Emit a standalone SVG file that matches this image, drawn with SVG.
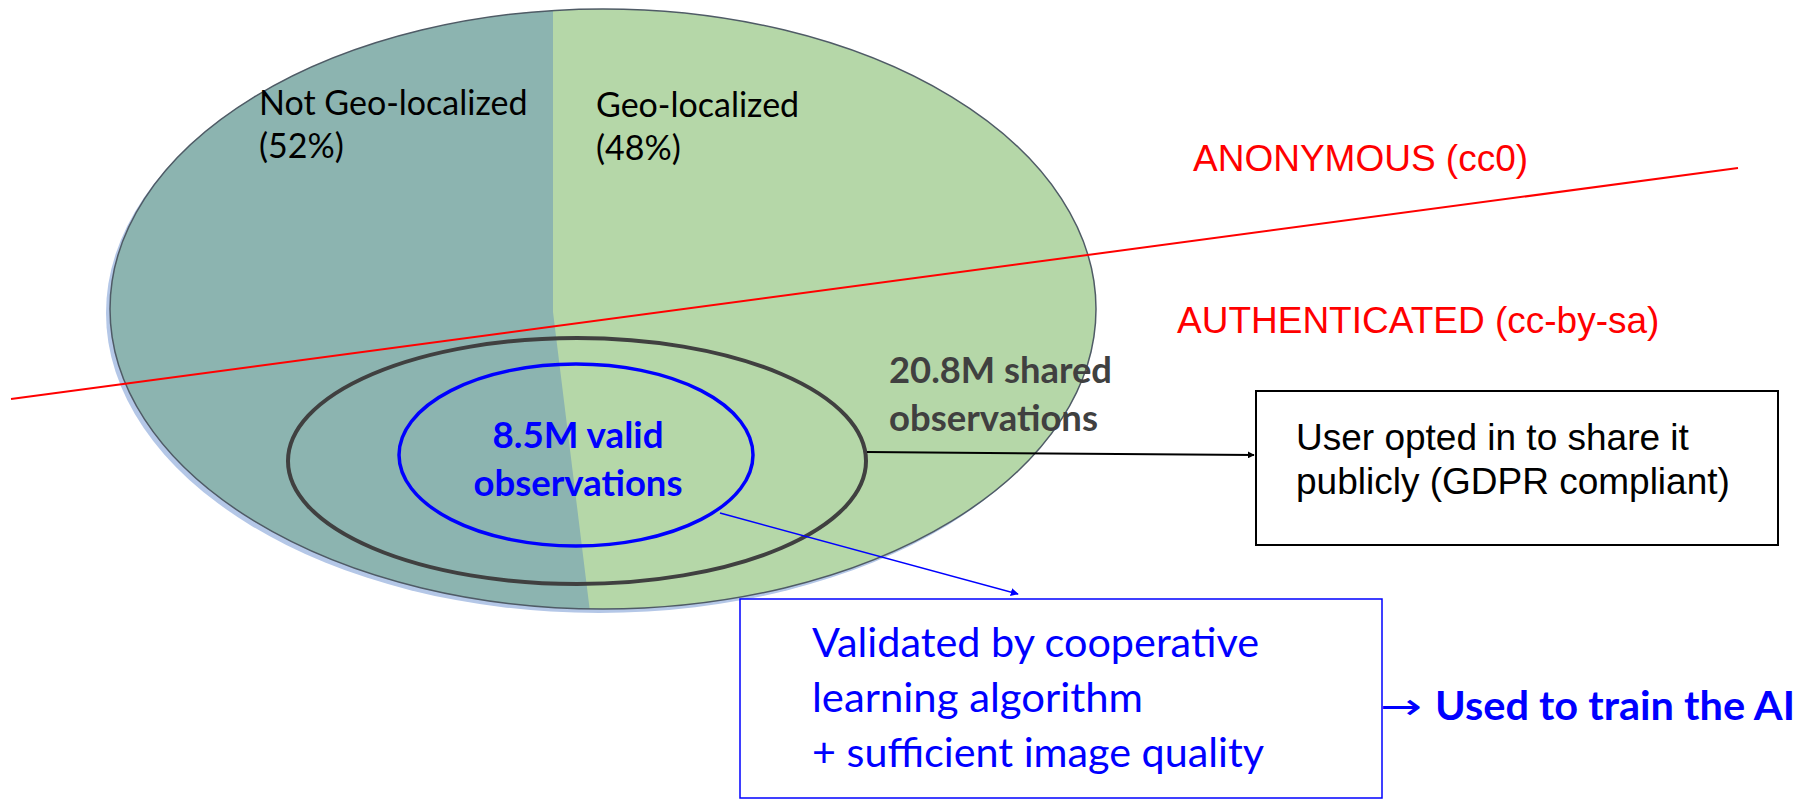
<svg xmlns="http://www.w3.org/2000/svg" width="1814" height="799" viewBox="0 0 1814 799">
<style>
.cal{font-family:Lato,"Open Sans","Liberation Sans",sans-serif}
.calb{font-family:Lato,"Open Sans","Liberation Sans",sans-serif;font-weight:bold}
.ari{font-family:"Liberation Sans",Arial,sans-serif}
.red{fill:#FF0000;font-size:37px}
.blk{fill:#000000}
.blue{fill:#0000FF}
.gray{fill:#404040}
</style>
<defs>
<clipPath id="bigclip"><ellipse cx="603" cy="309" rx="493" ry="300"/></clipPath>
<marker id="ahBlack" viewBox="0 0 10 10" refX="9" refY="5" markerWidth="7" markerHeight="7" markerUnits="userSpaceOnUse" orient="auto"><path d="M0,0 L10,5 L0,10 z" fill="#000"/></marker>
<marker id="ahBlue" viewBox="0 0 10 10" refX="9" refY="5" markerWidth="8" markerHeight="8" markerUnits="userSpaceOnUse" orient="auto"><path d="M0,0 L10,5 L0,10 z" fill="#0000FF"/></marker>
</defs>
<rect width="1814" height="799" fill="#FFFFFF"/>

<g id="observations-all">
<ellipse cx="599" cy="313" rx="493" ry="300" fill="#B4C7E7"/>
<g clip-path="url(#bigclip)">
<rect x="100" y="0" width="1000" height="620" fill="#B5D7A8"/>
<path d="M100,0 L553,0 L553,312 L591,620 L100,620 z" fill="#8CB4B0"/>
</g>
<ellipse cx="603" cy="309" rx="493" ry="300" fill="none" stroke="#4F5B66" stroke-width="1.5"/>
<text class="cal blk" x="259" y="115" font-size="34">Not Geo-localized</text>
<text class="cal blk" x="259" y="158" font-size="34">(52%)</text>
<text class="cal blk" x="596" y="117" font-size="34">Geo-localized</text>
<text class="cal blk" x="596" y="160" font-size="34">(48%)</text>
</g>

<g id="anon-divider">
<line x1="11" y1="399" x2="1738" y2="168" stroke="#FF0000" stroke-width="2"/>
<text class="ari red" x="1193" y="171">ANONYMOUS (cc0)</text>
<text class="ari red" x="1177" y="333">AUTHENTICATED (cc-by-sa)</text>
</g>

<g id="shared">
<ellipse cx="577" cy="461" rx="289" ry="123" fill="none" stroke="#404040" stroke-width="4"/>
<text class="calb gray" x="889" y="383" font-size="36" textLength="223" lengthAdjust="spacingAndGlyphs">20.8M shared</text>
<text class="calb gray" x="889" y="431" font-size="36" textLength="209" lengthAdjust="spacingAndGlyphs">observations</text>
</g>

<g id="valid">
<ellipse cx="576" cy="455" rx="177" ry="91" fill="none" stroke="#0000FF" stroke-width="3.5"/>
<text class="calb blue" x="578" y="448" font-size="36" text-anchor="middle" textLength="171" lengthAdjust="spacingAndGlyphs">8.5M valid</text>
<text class="calb blue" x="578" y="496" font-size="36" text-anchor="middle" textLength="209" lengthAdjust="spacingAndGlyphs">observations</text>
</g>

<g id="gdpr-box">
<rect x="1256" y="391" width="522" height="154" fill="#FFFFFF" stroke="#000000" stroke-width="2"/>
<text class="ari blk" x="1296" y="450" font-size="37">User opted in to share it</text>
<text class="ari blk" x="1296" y="494" font-size="37">publicly (GDPR compliant)</text>
</g>

<g id="validated-box">
<rect x="740" y="599" width="642" height="199" fill="#FFFFFF" stroke="#0000FF" stroke-width="1.5"/>
<text class="cal blue" x="812" y="657" font-size="41" textLength="447" lengthAdjust="spacingAndGlyphs">Validated by cooperative</text>
<text class="cal blue" x="812" y="712" font-size="41" textLength="331" lengthAdjust="spacingAndGlyphs">learning algorithm</text>
<text class="cal blue" x="812" y="767" font-size="41" textLength="452" lengthAdjust="spacingAndGlyphs">+ sufficient image quality</text>
</g>

<g id="train-ai">
<text class="blue" x="1380" y="719" font-size="36" font-family="'DejaVu Sans',sans-serif" textLength="42" lengthAdjust="spacingAndGlyphs">→</text>
<text class="calb blue" x="1435" y="720" font-size="41" textLength="360" lengthAdjust="spacingAndGlyphs">Used to train the AI</text>
</g>

<g id="connectors">
<line x1="867" y1="452" x2="1254" y2="455" stroke="#000000" stroke-width="2" marker-end="url(#ahBlack)"/>
<line x1="720" y1="513" x2="1018" y2="594" stroke="#0000FF" stroke-width="1.5" marker-end="url(#ahBlue)"/>
</g>
</svg>
